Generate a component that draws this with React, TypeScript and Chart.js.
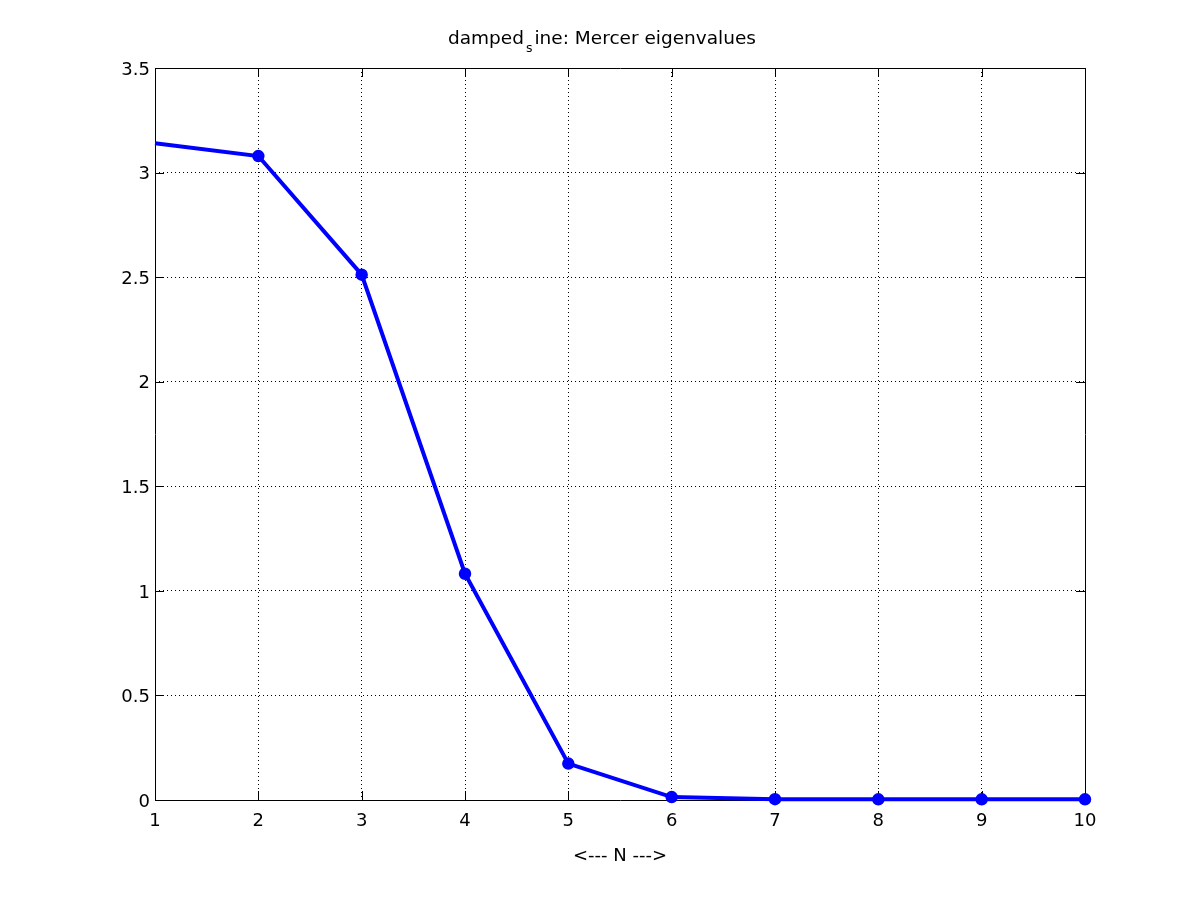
import React, { useEffect, useRef } from "react";
import { Chart, registerables } from "chart.js";

Chart.register(...registerables);

// ---- data ----
const nValues = [1, 2, 3, 4, 5, 6, 7, 8, 9, 10];
const eigenvalues = [3.14, 3.079, 2.512, 1.082, 0.174, 0.014, 0.004, 0.003, 0.003, 0.003];
const markerShown = [false, true, true, true, true, true, true, true, true, true];
const xRange = [1, 10];
const yRange = [0, 3.5];
const yStep = 0.5;
const xStep = 1;
const titleMain = "damped";
const titleSub = "s";
const titleRest = "ine: Mercer eigenvalues";
const xLabel = "<--- N --->";

const FONT = '"DejaVu Sans", "Liberation Sans", sans-serif';
const BLUE = "#0000ff";

const matlabAxes = {
  id: "matlabAxes",
  beforeDraw(chart: any) {
    const ctx = chart.ctx;
    ctx.save();
    ctx.fillStyle = "#ffffff";
    ctx.fillRect(0, 0, chart.width, chart.height);
    ctx.restore();
  },
  beforeDatasetsDraw(chart: any) {
    const ctx = chart.ctx;
    const { left, right, top, bottom } = chart.chartArea;
    const xs = chart.scales.x;
    const ys = chart.scales.y;
    const tl = 9;
    ctx.save();
    ctx.strokeStyle = "#000000";
    ctx.lineWidth = 1;
    ctx.setLineDash([]);
    ctx.beginPath();
    ctx.rect(Math.round(left) + 0.5, Math.round(top) + 0.5, Math.round(right - left), Math.round(bottom - top));
    xs.ticks.forEach((t: any) => {
      const px = Math.round(xs.getPixelForValue(t.value)) + 0.5;
      ctx.moveTo(px, bottom);
      ctx.lineTo(px, bottom - tl);
      ctx.moveTo(px, top);
      ctx.lineTo(px, top + tl);
    });
    ys.ticks.forEach((t: any) => {
      const py = Math.round(ys.getPixelForValue(t.value)) + 0.5;
      ctx.moveTo(left, py);
      ctx.lineTo(left + tl, py);
      ctx.moveTo(right, py);
      ctx.lineTo(right - tl, py);
    });
    ctx.stroke();
    ctx.restore();
  },
  afterDraw(chart: any) {
    const ctx = chart.ctx;
    const { left, right } = chart.chartArea;
    ctx.save();
    ctx.fillStyle = "#000000";
    ctx.textBaseline = "alphabetic";
    ctx.textAlign = "left";
    // title with TeX-like subscript
    const x = 448;
    const base = 44;
    ctx.font = `18.5px ${FONT}`;
    const wMain = ctx.measureText(titleMain).width;
    ctx.fillText(titleMain, x, base);
    ctx.font = `12.5px ${FONT}`;
    const wSub = ctx.measureText(titleSub).width;
    ctx.fillText(titleSub, x + wMain + 2, base + 8);
    ctx.font = `18.5px ${FONT}`;
    ctx.fillText(titleRest, x + wMain + wSub + 4, base);
    // x label
    ctx.font = `18px ${FONT}`;
    ctx.textAlign = "center";
    ctx.fillText(xLabel, (left + right) / 2, 861);
    ctx.restore();
  },
};

export default function App() {
  const canvasRef = useRef<HTMLCanvasElement | null>(null);

  useEffect(() => {
    if (!canvasRef.current) return;
    const chart = new Chart(canvasRef.current, {
      type: "line",
      data: {
        datasets: [
          {
            data: nValues.map((n, i) => ({ x: n, y: eigenvalues[i] })),
            borderColor: BLUE,
            backgroundColor: BLUE,
            borderWidth: 4,
            pointRadius: markerShown.map((m) => (m ? 5.5 : 0)),
            pointBorderWidth: 1.5,
            pointBorderColor: BLUE,
            pointBackgroundColor: BLUE,
            fill: false,
            tension: 0,
            clip: false,
          } as any,
        ],
      },
      options: {
        responsive: false,
        animation: false,
        events: [],
        layout: { padding: { top: 68, right: 115, left: 0, bottom: 0 } },
        plugins: {
          legend: { display: false },
          title: { display: false },
          tooltip: { enabled: false },
        },
        scales: {
          x: {
            type: "linear",
            min: xRange[0],
            max: xRange[1],
            afterFit: (s: any) => {
              s.height = 100;
            },
            ticks: {
              stepSize: xStep,
              color: "#000",
              font: { family: FONT, size: 18 },
              padding: 11,
              maxRotation: 0,
            },
            grid: { color: "#000", lineWidth: 1, drawTicks: false },
            border: { display: false, dash: [1, 3] },
          },
          y: {
            type: "linear",
            min: yRange[0],
            max: yRange[1],
            afterFit: (s: any) => {
              s.width = 155;
            },
            ticks: {
              stepSize: yStep,
              color: "#000",
              font: { family: FONT, size: 18 },
              padding: 5,
              labelOffset: 2,
              callback: (v: any) => String(v),
            },
            grid: { color: "#000", lineWidth: 1, drawTicks: false },
            border: { display: false, dash: [1, 3] },
          },
        },
      },
      plugins: [matlabAxes],
    });
    return () => chart.destroy();
  }, []);

  return (
    <div style={{ position: "absolute", left: 0, top: 0, width: 1200, height: 900, background: "#fff" }}>
      <canvas ref={canvasRef} width={1200} height={900} />
    </div>
  );
}
